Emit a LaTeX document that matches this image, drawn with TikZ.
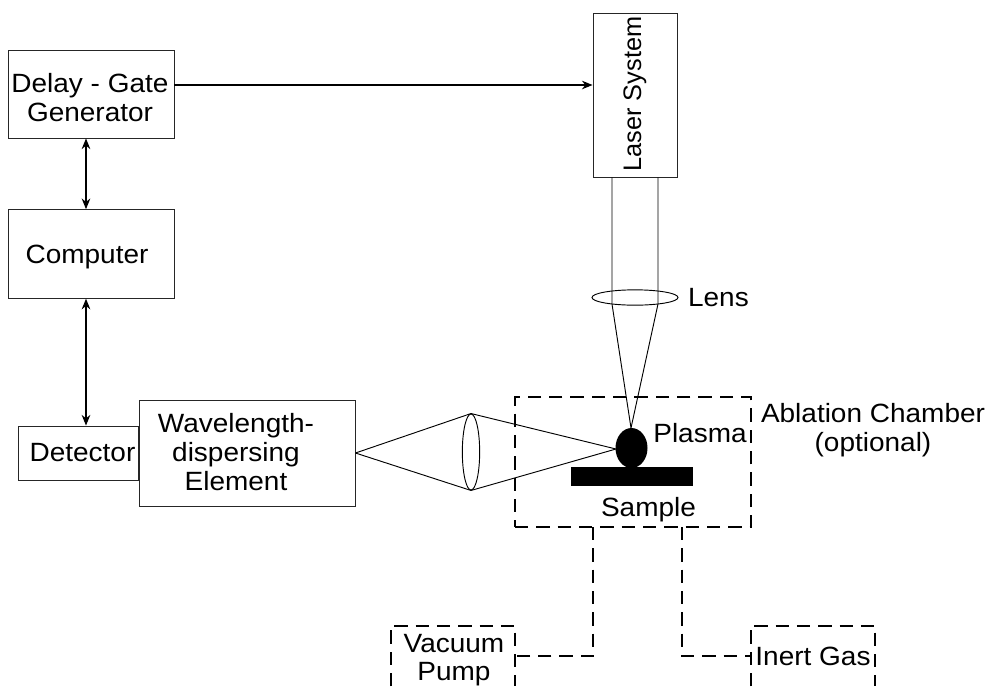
\documentclass[tikz,border=0pt]{standalone}
\usepackage{fontspec}
\setmainfont[FakeStretch=1.06]{Liberation Sans}
\newfontfamily\lasertext{Liberation Sans}
\usetikzlibrary{positioning, shapes.geometric, arrows.meta}
\tikzset{
  box/.style={draw=black!85, line width=0.7pt, inner sep=0pt},
  label/.style={inner sep=0pt, align=center, font=\fontsize{19.8}{21.5}\selectfont},
  thickdash/.style={line width=1.5pt, dash pattern=on 10pt off 6pt},
  ray/.style={line width=0.7pt},
  link/.style={line width=0.9pt, {Stealth[length=8pt,width=6.5pt]}-{Stealth[length=8pt,width=6.5pt]}},
  solidblack/.style={fill=black, draw=none}
}
\begin{document}
\begin{tikzpicture}[x=0.75pt,y=-0.75pt]
  \useasboundingbox (0,0) rectangle (989,686);
  \node [box, minimum width=124.5pt, minimum height=66pt] (delay) at (91,94) {};
  \node [box, minimum width=124.5pt, minimum height=66.5pt, below=53pt of delay] (computer) {};
  \node [box, minimum width=63pt, minimum height=123pt] (laser) at (635,95) {};
  \node [box, minimum width=162pt, minimum height=79.5pt] (element) at (247,453) {};
  \node [box, minimum width=90pt, minimum height=40.5pt, left=0pt of element] (detector) {};
  \node [label] (delaytext) at (90,97.5) {Delay - Gate\\Generator};
  \node [label] (computertext) at (87,257) {Computer};
  \node [label, rotate=90, font=\lasertext\fontsize{19}{21}\selectfont] (lasertext) at (635,94) {Laser System};
  \node [label] (detectortext) at (82.5,453) {Detector};
  \node [label] (elementtext) at (236,452) {Wavelength-\\dispersing\\Element};
  \node [draw, ellipse, line width=0.7pt, inner sep=0pt, minimum width=64.5pt, minimum height=11.5pt] (lens) at (635,297.5) {};
  \node [label, right=7pt of lens] (lenstext) {Lens};
  \node [draw, ellipse, line width=0.7pt, inner sep=0pt, minimum width=13pt, minimum height=57pt] (lenstwo) at (471,452) {};
  \node [draw, thickdash, inner sep=0pt, minimum width=177pt, minimum height=97.5pt] (chamber) at (633,462) {};
  \node [solidblack, ellipse, inner sep=0pt, minimum width=24pt, minimum height=30pt] (plasma) at (631.5,448) {};
  \node [solidblack, inner sep=0pt, minimum width=91.5pt, minimum height=14.5pt] (sample) at (632,476.5) {};
  \node [label] (plasmatext) at (700,433) {Plasma};
  \node [label] (sampletext) at (648.5,510) {Sample};
  \node [label] (chambertext) at (873,430) {Ablation Chamber\\(optional)};
  \node [minimum width=93pt, minimum height=45pt, inner sep=0pt] (pump) at (453,656) {};
  \node [label] (pumptext) at (454,660) {Vacuum\\Pump};
  \node [label, minimum width=93pt, minimum height=45pt] (gas) at (813,656) {Inert Gas};
  % beam and collection cones
  \coordinate (beamleft) at ([xshift=-17.25pt]laser.south);
  \coordinate (beamright) at ([xshift=17.25pt]laser.south);
  \coordinate (rimleft) at (612,304);
  \coordinate (rimright) at (658,304);
  \coordinate (focus) at (631,428);
  \coordinate (source) at (element.east);
  \coordinate (spot) at (616,449);
  \coordinate (pumpport) at (593,527);
  \coordinate (gasport) at (682,527);
  \draw [ray] (beamleft) -- (rimleft) -- (focus) -- (rimright) -- (beamright);
  \draw [ray] (source) -- (lenstwo.north) -- (spot) -- (lenstwo.south) -- (source);
  \draw [line width=0.9pt, -{Stealth[length=8pt,width=6.5pt]}] (delay.east |- 0,85) -- (laser.west |- 0,85);
  \draw [link] (delay.south -| 86,0) -- (computer.north -| 86,0);
  \draw [link] (computer.south -| 86,0) -- (detector.north -| 86,0);
  % gas lines
  \draw [thickdash] (pumpport) |- (pump.east);
  \draw [thickdash] (gasport) |- (gas.west);
  \draw [thickdash] (pump.south west) |- (pump.north east) -- (pump.south east);
  \draw [thickdash] (gas.south west) |- (gas.north east) -- (gas.south east);
\end{tikzpicture}
\end{document}
